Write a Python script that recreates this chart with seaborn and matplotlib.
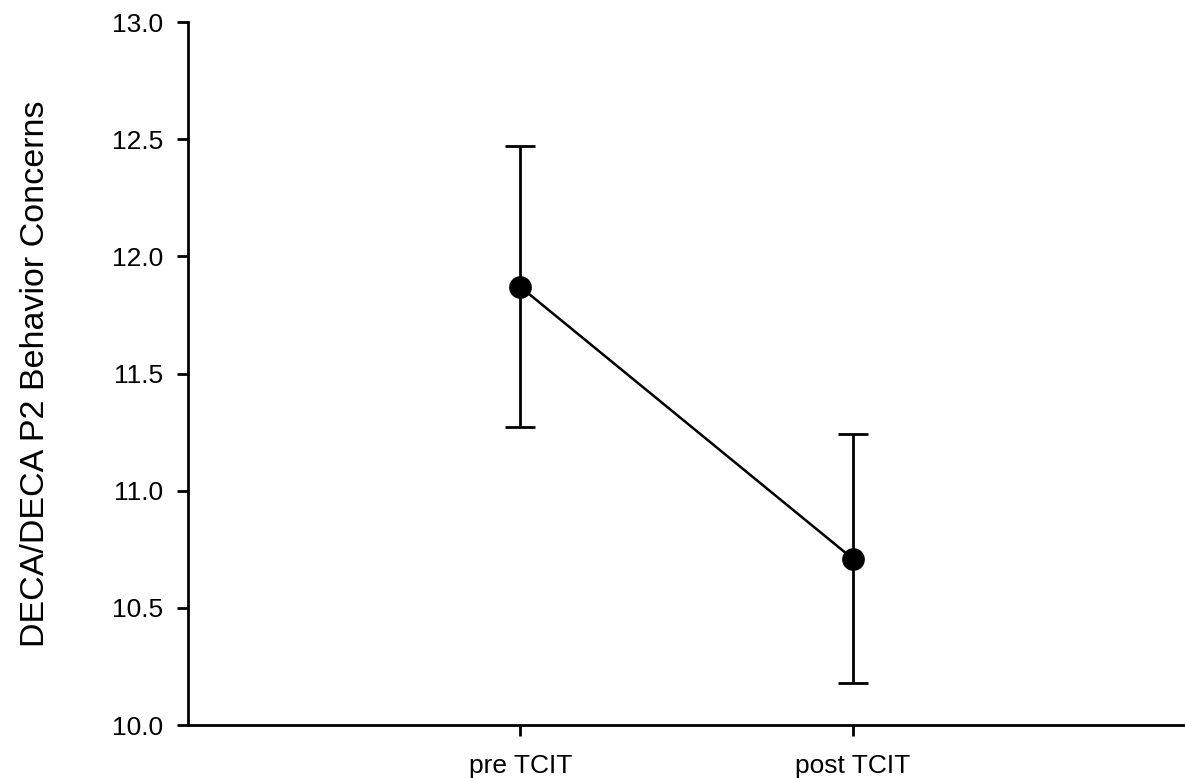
import matplotlib
matplotlib.use("Agg")
import matplotlib.pyplot as plt
import seaborn as sns
import pandas as pd

categories = ["pre TCIT", "post TCIT"]
means = [11.87, 10.71]
errors = [0.60, 0.53]
yticks = [10.0, 10.5, 11.0, 11.5, 12.0, 12.5, 13.0]

sns.set_theme(style="ticks")
plt.rcParams['font.family'] = ['Liberation Sans', 'DejaVu Sans']
plt.rcParams['text.color'] = 'black'
plt.rcParams['axes.labelcolor'] = 'black'

df = pd.DataFrame({"phase": categories, "score": means})

fig = plt.figure(figsize=(11.85, 7.78), dpi=100)
ax = fig.add_axes([0.1586, 0.0681, 0.8414, 0.9036])

ax.errorbar(range(len(categories)), means, yerr=errors, fmt="none",
            ecolor="black", elinewidth=2, capsize=11, capthick=2, zorder=2)
sns.pointplot(data=df, x="phase", y="score", color="black", markers="o",
              linestyles="-", errorbar=None, ax=ax, zorder=3,
              markersize=15, linewidth=1.8)

ax.set_xlim(-1, 2)
ax.set_ylim(10.0, 13.0)
ax.set_yticks(yticks)
ax.set_yticklabels([f"{t:.1f}" for t in yticks])
ax.set_xticks(range(len(categories)))
ax.set_xticklabels(categories)
ax.set_xlabel("")
ax.set_ylabel("DECA/DECA P2 Behavior Concerns", fontsize=24.5, labelpad=44)

for s in ["top", "right"]:
    ax.spines[s].set_visible(False)
for s in ["left", "bottom"]:
    ax.spines[s].set_linewidth(2)
    ax.spines[s].set_color("black")

ax.tick_params(axis="both", direction="out", length=8, width=2, colors="black",
               labelsize=19)
ax.tick_params(axis="y", pad=10)
ax.tick_params(axis="x", pad=13)

fig.savefig("out.png", dpi=100)
